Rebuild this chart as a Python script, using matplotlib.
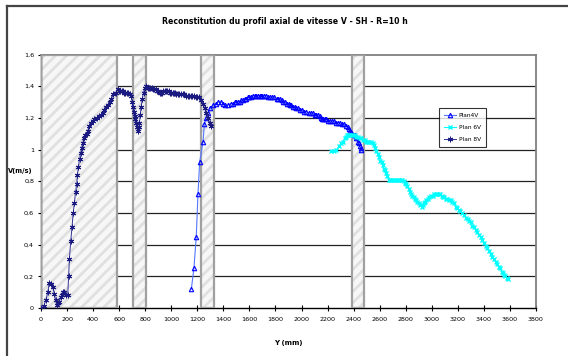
import matplotlib.pyplot as plt
from matplotlib.patches import Rectangle
from matplotlib.lines import Line2D
from matplotlib.ticker import FuncFormatter

# Plan 8V (dark navy, star markers)
x_8v = [0, 20, 38, 52, 64, 78, 90, 103, 112, 120, 130, 141, 152, 162, 172, 180, 192, 205,
        212, 218, 228, 238, 247, 256, 265, 274, 280, 287, 296, 305, 312, 320, 330, 341,
        350, 359, 372, 385, 398, 410, 430, 449, 462, 474, 487, 500, 512, 526, 540, 556,
        572, 590, 600, 610, 620, 628, 638, 648, 658, 667, 680, 692, 700, 705, 712, 718,
        725, 731, 738, 744, 750, 756, 762, 769, 778, 787, 798, 808, 820, 830, 840, 850,
        860, 870, 880, 890, 900, 910, 920, 930, 940, 950, 960, 970, 980, 990, 1000, 1010,
        1020, 1030, 1040, 1050, 1062, 1075, 1088, 1100, 1112, 1125, 1138, 1150, 1162, 1175,
        1188, 1200, 1215, 1230, 1244, 1256, 1269, 1282, 1295, 1308]
v_8v = [0.00, 0.01, 0.05, 0.10, 0.16, 0.15, 0.13, 0.09, 0.05, 0.02, 0.03, 0.04, 0.07, 0.08,
        0.10, 0.10, 0.08, 0.08, 0.20, 0.31, 0.42, 0.51, 0.60, 0.66, 0.73, 0.78, 0.84, 0.89,
        0.94, 0.98, 1.01, 1.04, 1.07, 1.09, 1.10, 1.12, 1.15, 1.17, 1.18, 1.19, 1.20, 1.21,
        1.22, 1.23, 1.25, 1.27, 1.28, 1.30, 1.32, 1.35, 1.36, 1.38, 1.37, 1.37, 1.37, 1.37,
        1.36, 1.36, 1.36, 1.36, 1.35, 1.34, 1.30, 1.27, 1.24, 1.21, 1.19, 1.17, 1.14, 1.12,
        1.14, 1.17, 1.22, 1.27, 1.32, 1.36, 1.39, 1.40, 1.39, 1.39, 1.39, 1.39, 1.38, 1.38,
        1.38, 1.37, 1.37, 1.36, 1.36, 1.36, 1.37, 1.37, 1.37, 1.37, 1.37, 1.36, 1.36, 1.36,
        1.36, 1.36, 1.35, 1.35, 1.35, 1.35, 1.35, 1.35, 1.34, 1.34, 1.34, 1.34, 1.34, 1.34,
        1.33, 1.33, 1.33, 1.31, 1.29, 1.26, 1.23, 1.20, 1.17, 1.15]

# Plan4V (blue, triangles)
x_4v = [1154, 1174, 1192, 1205, 1218, 1244, 1254, 1268, 1282, 1300, 1321, 1340, 1359, 1378,
        1397, 1416, 1436, 1455, 1474, 1487, 1500, 1513, 1526, 1538, 1550, 1563, 1577, 1588,
        1600, 1614, 1628, 1640, 1650, 1665, 1680, 1690, 1700, 1715, 1731, 1745, 1760, 1775,
        1790, 1808, 1820, 1834, 1847, 1860, 1875, 1890, 1900, 1910, 1923, 1936, 1948, 1960,
        1975, 1990, 2005, 2020, 2038, 2054, 2070, 2085, 2100, 2114, 2127, 2140, 2150, 2158,
        2166, 2178, 2190, 2204, 2217, 2233, 2250, 2265, 2280, 2295, 2310, 2327, 2344, 2355,
        2365, 2374, 2382, 2391, 2400, 2408, 2415, 2422, 2430, 2438, 2446, 2453, 2459]
v_4v = [0.12, 0.25, 0.45, 0.72, 0.92, 1.05, 1.16, 1.20, 1.23, 1.26, 1.28, 1.29, 1.30, 1.30,
        1.29, 1.28, 1.28, 1.29, 1.29, 1.30, 1.30, 1.30, 1.30, 1.31, 1.31, 1.32, 1.32, 1.33,
        1.33, 1.33, 1.34, 1.34, 1.34, 1.34, 1.34, 1.34, 1.34, 1.34, 1.34, 1.33, 1.33, 1.33,
        1.33, 1.32, 1.32, 1.32, 1.31, 1.30, 1.30, 1.29, 1.29, 1.28, 1.28, 1.27, 1.27, 1.26,
        1.26, 1.25, 1.25, 1.24, 1.24, 1.23, 1.23, 1.23, 1.22, 1.22, 1.22, 1.21, 1.20, 1.19,
        1.19, 1.19, 1.19, 1.18, 1.18, 1.18, 1.18, 1.17, 1.17, 1.17, 1.16, 1.16, 1.15, 1.14,
        1.13, 1.12, 1.11, 1.10, 1.09, 1.09, 1.08, 1.07, 1.05, 1.04, 1.02, 1.01, 1.00]

# Plan 6V (cyan, x markers)
x_6v = [2229, 2250, 2268, 2290, 2305, 2318, 2330, 2340, 2350, 2357, 2366, 2375, 2385, 2395,
        2408, 2420, 2433, 2446, 2458, 2470, 2484, 2497, 2508, 2520, 2534, 2548, 2557, 2565,
        2575, 2586, 2595, 2605, 2615, 2624, 2632, 2640, 2650, 2660, 2670, 2680, 2690, 2702,
        2713, 2727, 2740, 2752, 2764, 2775, 2785, 2795, 2803, 2812, 2822, 2832, 2841, 2850,
        2860, 2870, 2879, 2890, 2900, 2912, 2925, 2932, 2940, 2948, 2955, 2968, 2980, 2993,
        3006, 3018, 3030, 3041, 3052, 3064, 3075, 3086, 3096, 3108, 3120, 3133, 3146, 3158,
        3170, 3184, 3197, 3208, 3220, 3234, 3248, 3262, 3275, 3287, 3299, 3312, 3325, 3338,
        3350, 3362, 3375, 3388, 3401, 3413, 3425, 3438, 3452, 3465, 3478, 3490, 3503, 3514,
        3525, 3536, 3546, 3556, 3565, 3576, 3587]
v_6v = [0.99, 0.99, 1.00, 1.02, 1.04, 1.05, 1.07, 1.08, 1.09, 1.09, 1.09, 1.09, 1.09, 1.09,
        1.09, 1.08, 1.08, 1.07, 1.07, 1.06, 1.06, 1.05, 1.05, 1.05, 1.05, 1.04, 1.03, 1.01,
        0.99, 0.97, 0.95, 0.93, 0.92, 0.90, 0.88, 0.87, 0.85, 0.83, 0.81, 0.81, 0.81, 0.81,
        0.81, 0.81, 0.81, 0.81, 0.81, 0.81, 0.80, 0.79, 0.78, 0.77, 0.75, 0.73, 0.72, 0.71,
        0.70, 0.69, 0.68, 0.67, 0.66, 0.65, 0.64, 0.65, 0.66, 0.67, 0.68, 0.69, 0.70, 0.71,
        0.71, 0.72, 0.72, 0.72, 0.72, 0.72, 0.71, 0.70, 0.70, 0.69, 0.69, 0.68, 0.68, 0.67,
        0.66, 0.64, 0.63, 0.62, 0.61, 0.60, 0.59, 0.57, 0.56, 0.55, 0.54, 0.52, 0.51, 0.49,
        0.48, 0.46, 0.45, 0.43, 0.41, 0.39, 0.38, 0.36, 0.34, 0.32, 0.31, 0.29, 0.28, 0.26,
        0.25, 0.23, 0.22, 0.21, 0.20, 0.19, 0.18]

# masked (hatched) zones along Y, in mm
zones = [(0, 580), (710, 805), (1230, 1330), (2390, 2480)]

x_ticks = list(range(0, 3801, 200))
y_ticks = [0, 0.2, 0.4, 0.6, 0.8, 1.0, 1.2, 1.4, 1.6]

plt.rcParams['hatch.linewidth'] = 2.0

W, H = 568, 356
fig = plt.figure(figsize=(W / 100, H / 100), dpi=100)
ax = fig.add_axes([41 / W, 1 - 308 / H, (536 - 41) / W, (308 - 54.5) / H])

# outer frame (left and top only visible)
fig.add_artist(Line2D([7 / W, 7 / W], [0, 1 - 6 / H], transform=fig.transFigure,
                      color='#444444', lw=1.6))
fig.add_artist(Line2D([7 / W, 1], [1 - 6 / H, 1 - 6 / H], transform=fig.transFigure,
                      color='#444444', lw=1.6))

ax.set_xlim(0, 3800)
ax.set_ylim(0, 1.6)

# grid
for y in y_ticks[1:-1]:
    ax.axhline(y, color='#222222', lw=0.9, zorder=1)

# hatched zones
for x0, x1 in zones:
    ax.add_patch(Rectangle((x0, 0), x1 - x0, 1.6, facecolor='#f7f7f7', edgecolor='#e0e0e0',
                           hatch='///', lw=0, zorder=2))
    ax.add_patch(Rectangle((x0, 0), x1 - x0, 1.6, facecolor='none', edgecolor='#a0a0a0',
                           lw=1.6, zorder=3))

ax.plot(x_4v, v_4v, color='#5577ff', lw=0.8, marker='^', ms=3.2, mfc='none',
        mec='#0000ff', mew=0.8, label='Plan4V', zorder=5)
ax.plot(x_6v, v_6v, color='#00ffff', lw=0.8, marker='x', ms=3.5,
        mec='#00ffff', mew=1.0, label='Plan 6V', zorder=5)
ax.plot(x_8v, v_8v, color='#333399', lw=0.7, marker=(6, 2, 0), ms=4,
        mec='#1a1a80', mew=0.7, label='Plan 8V', zorder=6)

ax.set_xticks(x_ticks)
ax.set_yticks(y_ticks)
ax.yaxis.set_major_formatter(FuncFormatter(lambda v, p: f'{v:g}'.replace('.', ',')))
ax.tick_params(axis='x', direction='inout', length=5, width=0.8, labelsize=4.6,
               pad=4, colors='black')
ax.tick_params(axis='y', direction='inout', length=4, width=0.8, labelsize=4.6, pad=3)

for s in ['left', 'bottom']:
    ax.spines[s].set_color('black')
    ax.spines[s].set_linewidth(1.0)
for s in ['top', 'right']:
    ax.spines[s].set_color('#808080')
    ax.spines[s].set_linewidth(1.3)

fig.text(285 / W, 1 - 21 / H, 'Reconstitution du profil axial de vitesse V - SH - R=10 h',
         ha='center', va='center', fontsize=5.6, fontweight='bold')
fig.text(288 / W, 1 - 343 / H, 'Y (mm)', ha='center', va='center', fontsize=5,
         fontweight='bold')
fig.text(20 / W, 1 - 171 / H, 'V(m/s)', ha='center', va='center', fontsize=4.8,
         fontweight='bold')

leg = ax.legend(loc='upper left', bbox_to_anchor=(436 / W, 1 - 105 / H),
                bbox_transform=fig.transFigure, fontsize=4.2, frameon=True,
                fancybox=False, edgecolor='black', handlelength=2.2,
                borderpad=0.8, labelspacing=1.2, handletextpad=0.4)
leg.get_frame().set_linewidth(0.8)
leg.set_zorder(10)

fig.savefig('out.png', dpi=100)
